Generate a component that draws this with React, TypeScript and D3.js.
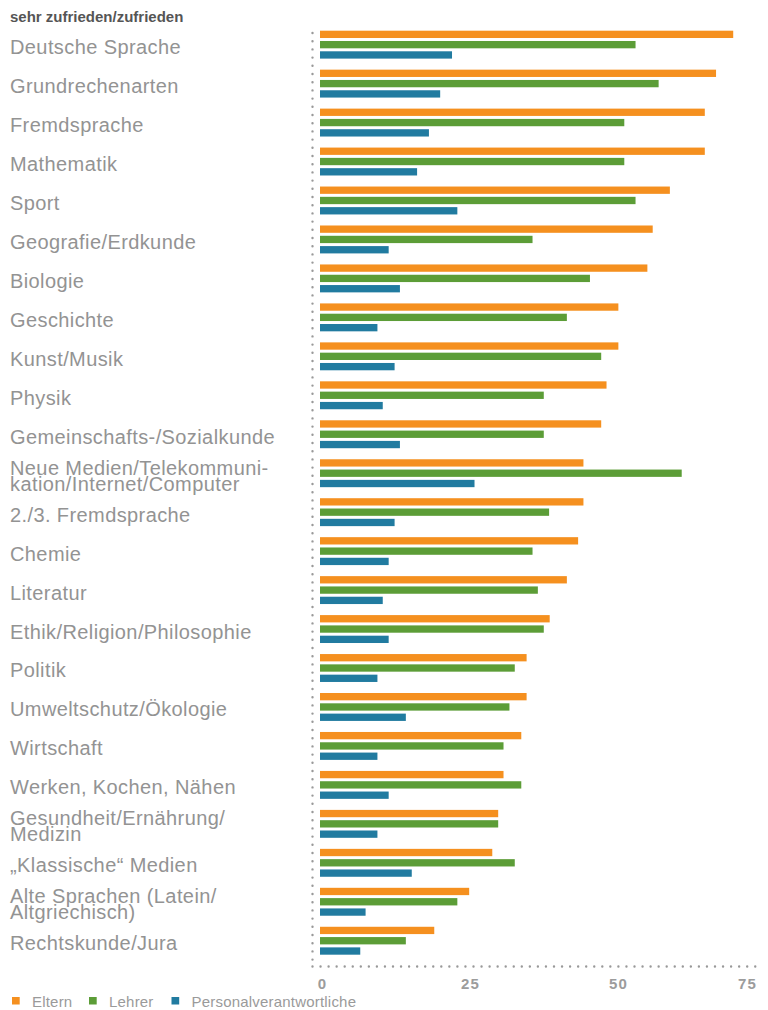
import React from "react";
import * as d3 from "d3";

const title = "sehr zufrieden/zufrieden";

const categories = [
  "Deutsche Sprache",
  "Grundrechenarten",
  "Fremdsprache",
  "Mathematik",
  "Sport",
  "Geografie/Erdkunde",
  "Biologie",
  "Geschichte",
  "Kunst/Musik",
  "Physik",
  "Gemeinschafts-/Sozialkunde",
  "Neue Medien/Telekommuni-\nkation/Internet/Computer",
  "2./3. Fremdsprache",
  "Chemie",
  "Literatur",
  "Ethik/Religion/Philosophie",
  "Politik",
  "Umweltschutz/Ökologie",
  "Wirtschaft",
  "Werken, Kochen, Nähen",
  "Gesundheit/Ernährung/\nMedizin",
  "„Klassische“ Medien",
  "Alte Sprachen (Latein/\nAltgriechisch)",
  "Rechtskunde/Jura",
];

const eltern = [69.8, 66.9, 65.0, 65.0, 59.1, 56.2, 55.3, 50.4, 50.4, 48.4, 47.5, 44.5, 44.5, 43.6, 41.7, 38.8, 34.9, 34.9, 34.0, 31.0, 30.1, 29.1, 25.2, 19.3];
const lehrer = [53.3, 57.2, 51.4, 51.4, 53.3, 35.9, 45.6, 41.7, 47.5, 37.8, 37.8, 61.1, 38.7, 35.9, 36.8, 37.8, 32.9, 32.0, 31.0, 34.0, 30.1, 32.9, 23.2, 14.5];
const personal = [22.3, 20.3, 18.4, 16.4, 23.2, 11.6, 13.5, 9.7, 12.6, 10.6, 13.5, 26.1, 12.6, 11.6, 10.6, 11.6, 9.7, 14.5, 9.7, 11.6, 9.7, 15.5, 7.7, 6.8];

const seriesNames = ["Eltern", "Lehrer", "Personalverantwortliche"];
const seriesColors = ["#F5901F", "#5C9D37", "#217BA0"];
const xTicks = [0, 25, 50, 75];

export default function App() {
  const W = 768;
  const H = 1010;
  const x = d3.scaleLinear().domain([0, 75]).range([320, 320 + 75 * 5.92]);
  const y = d3.scaleBand<string>().domain(categories).range([28.2, 28.2 + categories.length * 38.96]).padding(0);
  const ys = d3.scaleBand<string>().domain(seriesNames).range([1, 31.9]).paddingInner(0.29).paddingOuter(0.145);
  const series = [eltern, lehrer, personal];
  const axisY = 966.5;
  const lineX = 312.5;
  const labelFont = "'Liberation Sans', Arial, sans-serif";

  return (
    <svg width={W} height={H} style={{ position: "absolute", left: 0, top: 0, background: "#fff" }}>
      <text x={10} y={22} fontFamily={labelFont} fontWeight="bold" fontSize={15} fill="#555">
        {title}
      </text>
      <line x1={lineX} x2={lineX} y1={33} y2={axisY} stroke="#999" strokeWidth={2.4} strokeLinecap="round" strokeDasharray="0 8.2" />
      <line x1={lineX} x2={757} y1={axisY} y2={axisY} stroke="#999" strokeWidth={2.4} strokeLinecap="round" strokeDasharray="0 8.05" />
      {categories.map((c, i) => {
        const top = y(c)!;
        const center = top + 16.5;
        const lines = c.split("\n");
        return (
          <g key={c}>
            {lines.map((ln, k) => (
              <text
                key={k}
                x={10}
                y={center + 9.4 - ((lines.length - 1) * 16) / 2 + k * 16}
                fontFamily={labelFont}
                fontSize={20}
                letterSpacing={0.4}
                fill="#939393"
              >
                {ln}
              </text>
            ))}
            {series.map((s, j) => (
              <rect
                key={j}
                x={x(0)}
                y={top + ys(seriesNames[j])!}
                width={x(s[i]) - x(0)}
                height={ys.bandwidth()}
                fill={seriesColors[j]}
              />
            ))}
          </g>
        );
      })}
      {xTicks.map((t, i) => {
        const last = i === xTicks.length - 1;
        return (
          <text
            key={t}
            x={last ? 757 : x(t) + 2.5}
            y={989}
            textAnchor={last ? "end" : "middle"}
            fontFamily={labelFont}
            fontWeight="bold"
            fontSize={15}
            letterSpacing={1.2}
            fill="#9c9c9c"
          >
            {t}
          </text>
        );
      })}
      {seriesNames.map((n, j) => {
        const lx = [12, 89, 171.5][j];
        return (
          <g key={n}>
            <rect x={lx} y={997} width={7.7} height={7.5} fill={seriesColors[j]} />
            <text x={lx + 20} y={1007} fontFamily={labelFont} fontSize={15} letterSpacing={0.2} fill="#9a9a9a">
              {n}
            </text>
          </g>
        );
      })}
    </svg>
  );
}
